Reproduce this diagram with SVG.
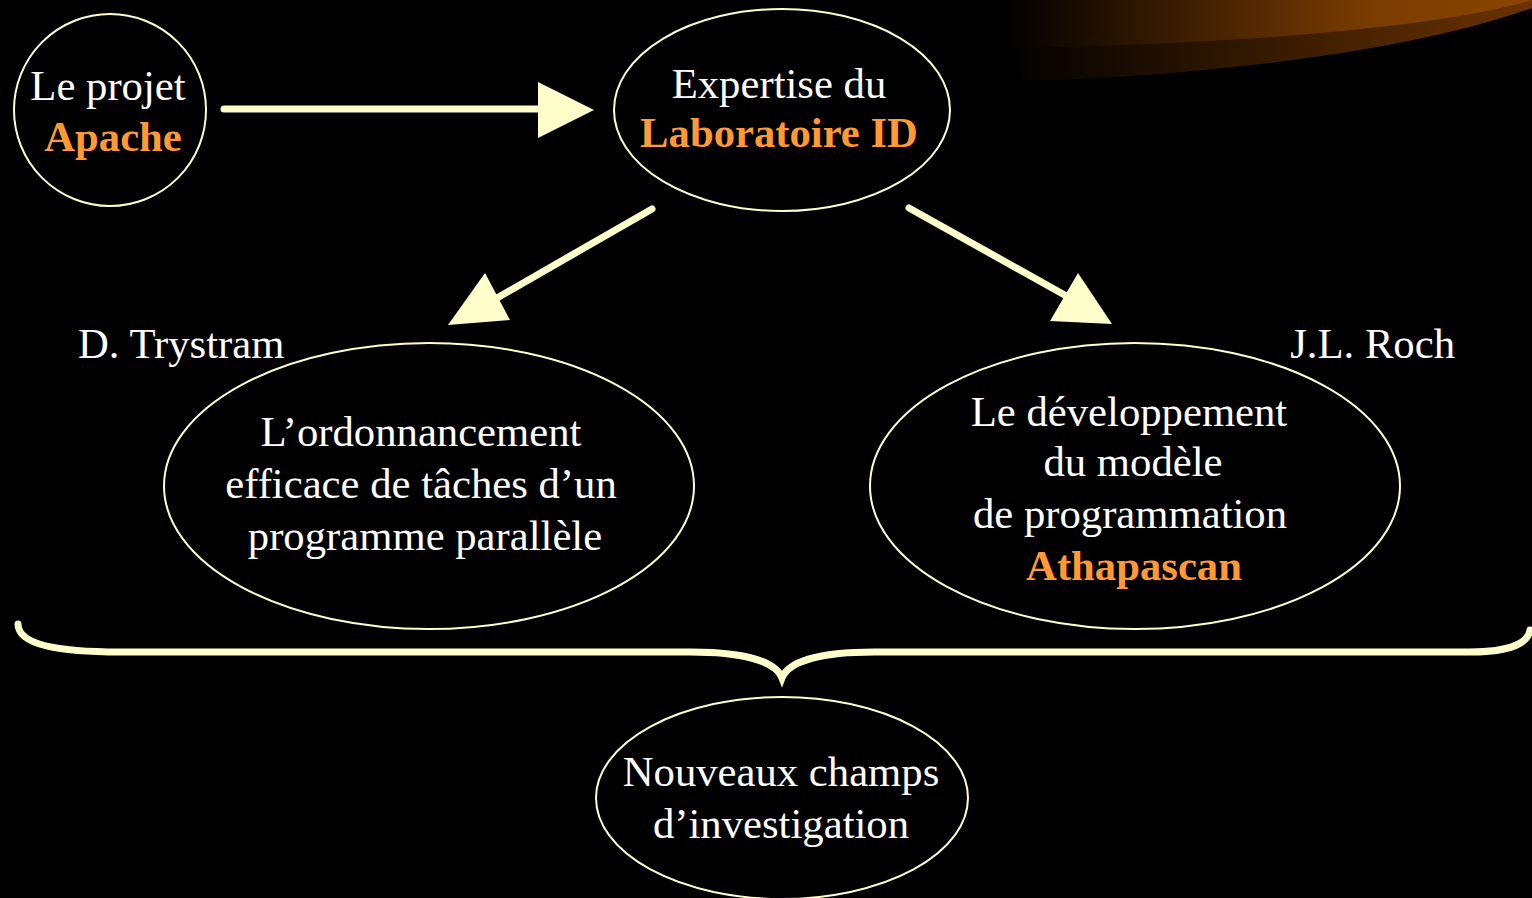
<svg xmlns="http://www.w3.org/2000/svg" width="1532" height="898" viewBox="0 0 1532 898">
<defs>
<linearGradient id="sw1" x1="1000" y1="0" x2="1532" y2="0" gradientUnits="userSpaceOnUse">
<stop offset="0" stop-color="#000"/><stop offset="0.7" stop-color="#7a3c00"/><stop offset="1" stop-color="#8a4600"/>
</linearGradient>
<linearGradient id="sw2" x1="1000" y1="0" x2="1532" y2="0" gradientUnits="userSpaceOnUse">
<stop offset="0" stop-color="#000"/><stop offset="1" stop-color="#6a3300"/>
</linearGradient>
<style>
.n{fill:none;stroke:#FFFFCC;stroke-width:2}
.t{font-family:"Liberation Serif","Times New Roman",serif;font-size:42.7px;fill:#fff;text-anchor:middle}
.o{fill:#FF9933;font-weight:bold}
.c{stroke:#FFFFCC;stroke-width:7;stroke-linecap:round;fill:none}
.h{fill:#FFFFCC}
</style>
</defs>
<rect width="1532" height="898" fill="#000"/>
<g id="swoosh">
<path d="M1010,0 L1532,0 L1532,8 C1400,55 1200,75 1020,82 Z" fill="url(#sw2)"/>
<path d="M1005,0 L1532,0 C1450,25 1250,45 1005,48 Z" fill="url(#sw1)"/>
</g>
<g id="connectors">
<line class="c" x1="224" y1="109" x2="545" y2="109"/>
<polygon class="h" points="538,82 538,138 594,110"/>
<line class="c" x1="652" y1="209" x2="490" y2="302"/>
<polygon class="h" points="448,325 510,320 485,273"/>
<line class="c" x1="909" y1="208" x2="1070" y2="298"/>
<polygon class="h" points="1050,321 1112,324 1078,273"/>
<path id="brace" d="M18,624 C18,645 60,652 120,652 L690,652 C740,652 775,660 782,678 C789,660 824,652 874,652 L1470,652 C1510,652 1528,643 1530,630" fill="none" stroke="#FFFFCC" stroke-width="7" stroke-linecap="round"/>
</g>
<g id="apache">
<ellipse class="n" cx="110" cy="110" rx="96" ry="96"/>
<text class="t" x="108" y="100">Le projet</text>
<text class="t o" x="113" y="151">Apache</text>
</g>
<g id="labo">
<ellipse class="n" cx="782" cy="110" rx="168" ry="101"/>
<text class="t" x="779" y="98">Expertise du</text>
<text class="t o" x="779" y="147">Laboratoire ID</text>
</g>
<g id="trystram">
<text class="t" x="78" y="358" style="text-anchor:start">D. Trystram</text>
</g>
<g id="roch">
<text class="t" x="1455" y="358" style="text-anchor:end">J.L. Roch</text>
</g>
<g id="ordo">
<ellipse class="n" cx="429" cy="486" rx="265" ry="143"/>
<text class="t" x="421" y="446">L’ordonnancement</text>
<text class="t" x="421" y="498">efficace de tâches d’un</text>
<text class="t" x="425" y="550">programme parallèle</text>
</g>
<g id="dev">
<ellipse class="n" cx="1135" cy="486" rx="265" ry="143"/>
<text class="t" x="1129" y="426">Le développement</text>
<text class="t" x="1133" y="476">du modèle</text>
<text class="t" x="1130" y="528">de programmation</text>
<text class="t o" x="1134" y="580">Athapascan</text>
</g>
<g id="nouveaux">
<ellipse class="n" cx="782" cy="798" rx="186" ry="101"/>
<text class="t" x="781" y="786">Nouveaux champs</text>
<text class="t" x="781" y="838">d’investigation</text>
</g>
</svg>
